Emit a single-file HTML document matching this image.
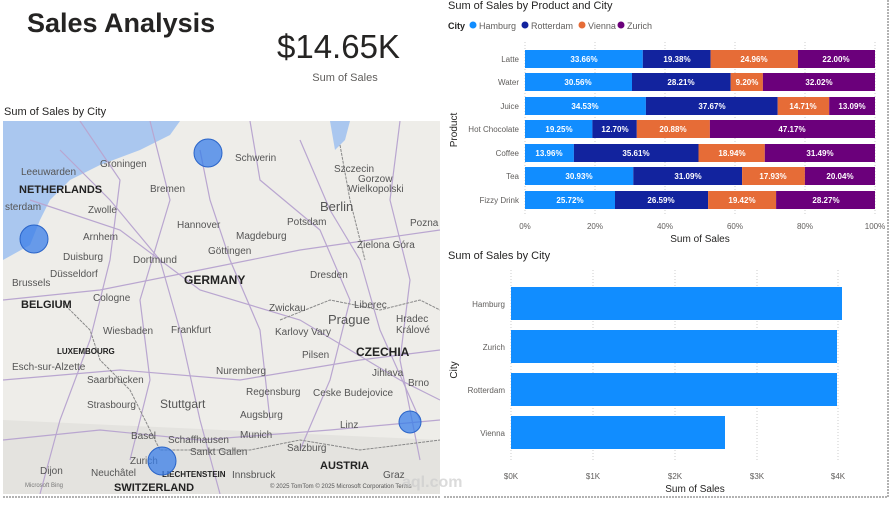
<!DOCTYPE html>
<html><head><meta charset="utf-8"><style>
html,body{margin:0;padding:0;background:#fff;}
body{width:892px;height:500px;overflow:hidden;font-family:"Liberation Sans","DejaVu Sans",sans-serif;}
</style></head><body>
<svg width="892" height="500" viewBox="0 0 892 500" xmlns="http://www.w3.org/2000/svg" font-family="Liberation Sans, DejaVu Sans, sans-serif">
<rect width="892" height="500" fill="#fff"/>
<!-- header -->
<text x="27" y="32" font-size="27" font-weight="bold" fill="#252423">Sales Analysis</text>
<text x="277" y="58" font-size="33" fill="#252423">$14.65K</text>
<text x="345" y="81" font-size="11" fill="#605e5c" text-anchor="middle">Sum of Sales</text>
<!-- map -->
<text x="4" y="115" font-size="11" fill="#252423">Sum of Sales by City</text>
<clipPath id="mc"><rect x="3" y="121" width="437" height="373"/></clipPath>
<g clip-path="url(#mc)">
<rect x="3" y="121" width="437" height="373" fill="#eeede9"/>
<path d="M3 121 L180 121 L170 135 L140 150 L100 165 L70 180 L50 200 L40 220 L30 245 L3 260 Z" fill="#aac7ef"/>
<path d="M330 121 L350 121 L345 140 L335 150 Z" fill="#aac7ef"/>
<path d="M3 420 L440 440 L440 494 L3 494 Z" fill="#e4e3df"/>
<g stroke="#b9a6d0" stroke-width="1.2" fill="none">
<path d="M30 200 L120 230 L200 290 L300 320 L400 380 L440 400"/>
<path d="M60 150 L110 200 L160 260 L180 330 L200 420 L220 494"/>
<path d="M200 150 L210 200 L230 260 L260 330 L270 420"/>
<path d="M300 140 L330 210 L360 260 L380 330 L420 420"/>
<path d="M3 300 L100 290 L200 270 L300 250 L440 230"/>
<path d="M3 380 L120 370 L240 380 L360 360 L440 350"/>
<path d="M80 121 L120 180 L110 260 L90 340 L60 420 L40 494"/>
<path d="M250 121 L260 180 L320 230 L350 300 L330 380 L300 450"/>
<path d="M3 440 L100 430 L200 440 L330 430 L440 420"/>
<path d="M150 121 L170 200 L140 300 L150 380 L130 460"/>
<path d="M400 121 L390 200 L410 280 L400 360 L420 460"/>
</g>
<g stroke="#888" stroke-width="1" fill="none" stroke-dasharray="3 1">
<path d="M340 145 L350 200 L365 260"/>
<path d="M280 320 L330 300 L380 310 L420 300 L440 310"/>
<path d="M60 300 L90 330 L100 360 L130 390 L160 450 L250 450 L300 440 L360 450 L440 440"/>
</g>
<g font-size="10" fill="#555">
<text x="100" y="167">Groningen</text><text x="21" y="175">Leeuwarden</text>
<text x="150" y="192">Bremen</text><text x="235" y="161">Schwerin</text>
<text x="334" y="172">Szczecin</text><text x="358" y="182">Gorzow</text><text x="348" y="192">Wielkopolski</text>
<text x="5" y="210">sterdam</text><text x="88" y="213">Zwolle</text>
<text x="320" y="211" font-size="13">Berlin</text>
<text x="177" y="228">Hannover</text><text x="287" y="225">Potsdam</text>
<text x="410" y="226">Pozna</text>
<text x="83" y="240">Arnhem</text><text x="236" y="239">Magdeburg</text>
<text x="357" y="248">Zielona Góra</text>
<text x="208" y="254">Göttingen</text>
<text x="63" y="260">Duisburg</text><text x="133" y="263">Dortmund</text>
<text x="50" y="277">Düsseldorf</text><text x="310" y="278">Dresden</text>
<text x="12" y="286">Brussels</text><text x="93" y="301">Cologne</text>
<text x="269" y="311">Zwickau</text><text x="354" y="308">Liberec</text>
<text x="328" y="324" font-size="13">Prague</text>
<text x="103" y="334">Wiesbaden</text><text x="171" y="333">Frankfurt</text>
<text x="275" y="335">Karlovy Vary</text><text x="396" y="322">Hradec</text><text x="396" y="333">Králové</text>
<text x="302" y="358">Pilsen</text>
<text x="12" y="370">Esch-sur-Alzette</text><text x="216" y="374">Nuremberg</text>
<text x="372" y="376">Jihlava</text><text x="87" y="383">Saarbrücken</text>
<text x="246" y="395">Regensburg</text><text x="313" y="396">Ceske Budejovice</text>
<text x="408" y="386">Brno</text>
<text x="87" y="408">Strasbourg</text><text x="160" y="408" font-size="12">Stuttgart</text>
<text x="240" y="418">Augsburg</text><text x="340" y="428">Linz</text>
<text x="240" y="438">Munich</text><text x="131" y="439">Basel</text>
<text x="168" y="443">Schaffhausen</text><text x="190" y="455">Sankt Gallen</text>
<text x="287" y="451">Salzburg</text><text x="130" y="464">Zurich</text>
<text x="40" y="474">Dijon</text><text x="91" y="476">Neuchâtel</text>
<text x="232" y="478">Innsbruck</text><text x="383" y="478">Graz</text>
</g>
<g font-size="11" font-weight="bold" fill="#222">
<text x="19" y="193">NETHERLANDS</text>
<text x="184" y="284" font-size="12">GERMANY</text>
<text x="21" y="308">BELGIUM</text>
<text x="57" y="354" font-size="8">LUXEMBOURG</text>
<text x="356" y="356" font-size="12">CZECHIA</text>
<text x="320" y="469">AUSTRIA</text>
<text x="162" y="477" font-size="8">LIECHTENSTEIN</text>
<text x="114" y="491">SWITZERLAND</text>
</g>
<g fill="#3a7de8" fill-opacity="0.75" stroke="#2a64c8" stroke-width="1">
<circle cx="208" cy="153" r="14"/>
<circle cx="34" cy="239" r="14"/>
<circle cx="162" cy="461" r="14"/>
<circle cx="410" cy="422" r="11"/>
</g>
<text x="25" y="487" font-size="6" fill="#777">Microsoft Bing</text>
<text x="270" y="488" font-size="6" fill="#555">© 2025 TomTom © 2025 Microsoft Corporation Terms</text>
</g>
<line x1="3" y1="497" x2="440" y2="497" stroke="#666" stroke-dasharray="2 1"/>
<!-- stacked chart -->
<text x="448" y="9" font-size="11" fill="#252423">Sum of Sales by Product and City</text>
<text x="448" y="29" font-size="9" font-weight="bold" fill="#252423">City</text>
<circle cx="473" cy="25" r="3.5" fill="#118dff"/><text x="479" y="29" font-size="9" fill="#605e5c">Hamburg</text>
<circle cx="525" cy="25" r="3.5" fill="#12239e"/><text x="531" y="29" font-size="9" fill="#605e5c">Rotterdam</text>
<circle cx="582" cy="25" r="3.5" fill="#e66c37"/><text x="588" y="29" font-size="9" fill="#605e5c">Vienna</text>
<circle cx="621" cy="25" r="3.5" fill="#6b007b"/><text x="627" y="29" font-size="9" fill="#605e5c">Zurich</text>
<g stroke="#ccc" stroke-dasharray="1 2">
<line x1="525" y1="42" x2="525" y2="215"/><line x1="595" y1="42" x2="595" y2="215"/><line x1="665" y1="42" x2="665" y2="215"/><line x1="735" y1="42" x2="735" y2="215"/><line x1="805" y1="42" x2="805" y2="215"/><line x1="875" y1="42" x2="875" y2="215"/>
</g>
<g font-size="8" fill="#605e5c" text-anchor="middle">
<text x="525" y="229">0%</text><text x="595" y="229">20%</text><text x="665" y="229">40%</text><text x="735" y="229">60%</text><text x="805" y="229">80%</text><text x="875" y="229">100%</text>
</g>
<text x="700" y="242" font-size="10" fill="#252423" text-anchor="middle">Sum of Sales</text>
<text transform="translate(457,130) rotate(-90)" font-size="10" fill="#252423" text-anchor="middle">Product</text>
<g font-size="8" fill="#605e5c" text-anchor="end">
<text x="519" y="62">Latte</text><text x="519" y="85">Water</text><text x="519" y="109">Juice</text><text x="519" y="132">Hot Chocolate</text><text x="519" y="156">Coffee</text><text x="519" y="179">Tea</text><text x="519" y="203">Fizzy Drink</text>
</g>
<g id="bars" font-size="8" font-weight="bold" fill="#fff" text-anchor="middle">
<!-- Latte y50 -->
<rect x="525" y="50" width="117.8" height="18" fill="#118dff"/><rect x="642.8" y="50" width="67.8" height="18" fill="#12239e"/><rect x="710.6" y="50" width="87.4" height="18" fill="#e66c37"/><rect x="798" y="50" width="77" height="18" fill="#6b007b"/>
<text x="584" y="62">33.66%</text><text x="677" y="62">19.38%</text><text x="754" y="62">24.96%</text><text x="836" y="62">22.00%</text>
<!-- Water y73 -->
<rect x="525" y="73" width="107" height="18" fill="#118dff"/><rect x="632" y="73" width="98.7" height="18" fill="#12239e"/><rect x="730.7" y="73" width="32.2" height="18" fill="#e66c37"/><rect x="762.9" y="73" width="112.1" height="18" fill="#6b007b"/>
<text x="578" y="85">30.56%</text><text x="681" y="85">28.21%</text><text x="747" y="85">9.20%</text><text x="819" y="85">32.02%</text>
<!-- Juice y97 -->
<rect x="525" y="97" width="120.9" height="18" fill="#118dff"/><rect x="645.9" y="97" width="131.8" height="18" fill="#12239e"/><rect x="777.7" y="97" width="51.5" height="18" fill="#e66c37"/><rect x="829.2" y="97" width="45.8" height="18" fill="#6b007b"/>
<text x="585" y="109">34.53%</text><text x="712" y="109">37.67%</text><text x="803" y="109">14.71%</text><text x="852" y="109">13.09%</text>
<!-- Hot Choc y120 -->
<rect x="525" y="120" width="67.4" height="18" fill="#118dff"/><rect x="592.4" y="120" width="44.4" height="18" fill="#12239e"/><rect x="636.8" y="120" width="73.1" height="18" fill="#e66c37"/><rect x="709.9" y="120" width="165.1" height="18" fill="#6b007b"/>
<text x="559" y="132">19.25%</text><text x="615" y="132">12.70%</text><text x="673" y="132">20.88%</text><text x="792" y="132">47.17%</text>
<!-- Coffee y144 -->
<rect x="525" y="144" width="48.9" height="18" fill="#118dff"/><rect x="573.9" y="144" width="124.6" height="18" fill="#12239e"/><rect x="698.5" y="144" width="66.3" height="18" fill="#e66c37"/><rect x="764.8" y="144" width="110.2" height="18" fill="#6b007b"/>
<text x="549" y="156">13.96%</text><text x="636" y="156">35.61%</text><text x="732" y="156">18.94%</text><text x="820" y="156">31.49%</text>
<!-- Tea y167 -->
<rect x="525" y="167" width="108.3" height="18" fill="#118dff"/><rect x="633.3" y="167" width="108.8" height="18" fill="#12239e"/><rect x="742.1" y="167" width="62.8" height="18" fill="#e66c37"/><rect x="804.9" y="167" width="70.1" height="18" fill="#6b007b"/>
<text x="579" y="179">30.93%</text><text x="688" y="179">31.09%</text><text x="773" y="179">17.93%</text><text x="840" y="179">20.04%</text>
<!-- Fizzy y191 -->
<rect x="525" y="191" width="90" height="18" fill="#118dff"/><rect x="615" y="191" width="93.1" height="18" fill="#12239e"/><rect x="708.1" y="191" width="68" height="18" fill="#e66c37"/><rect x="776.1" y="191" width="98.9" height="18" fill="#6b007b"/>
<text x="570" y="203">25.72%</text><text x="661" y="203">26.59%</text><text x="742" y="203">19.42%</text><text x="826" y="203">28.27%</text>
</g>
<!-- bottom bar chart -->
<text x="448" y="259" font-size="11" fill="#252423">Sum of Sales by City</text>
<g stroke="#ccc" stroke-dasharray="1 2">
<line x1="511" y1="270" x2="511" y2="460"/><line x1="593" y1="270" x2="593" y2="460"/><line x1="675" y1="270" x2="675" y2="460"/><line x1="757" y1="270" x2="757" y2="460"/><line x1="838" y1="270" x2="838" y2="460"/>
</g>
<g fill="#118dff">
<rect x="511" y="287" width="331" height="33"/>
<rect x="511" y="330" width="326" height="33"/>
<rect x="511" y="373" width="326" height="33"/>
<rect x="511" y="416" width="214" height="33"/>
</g>
<g font-size="8" fill="#605e5c" text-anchor="end">
<text x="505" y="307">Hamburg</text><text x="505" y="350">Zurich</text><text x="505" y="393">Rotterdam</text><text x="505" y="436">Vienna</text>
</g>
<g font-size="8" fill="#605e5c" text-anchor="middle">
<text x="511" y="479">$0K</text><text x="593" y="479">$1K</text><text x="675" y="479">$2K</text><text x="757" y="479">$3K</text><text x="838" y="479">$4K</text>
</g>
<text x="695" y="492" font-size="10" fill="#252423" text-anchor="middle">Sum of Sales</text>
<text transform="translate(457,370) rotate(-90)" font-size="10" fill="#252423" text-anchor="middle">City</text>
<line x1="444" y1="497" x2="888" y2="497" stroke="#666" stroke-dasharray="2 1"/>
<line x1="888" y1="0" x2="888" y2="497" stroke="#666" stroke-dasharray="2 1"/>
<text x="402" y="487" font-size="16" font-weight="bold" fill="#ccc" fill-opacity="0.7">aql.com</text>
</svg>
</body></html>
